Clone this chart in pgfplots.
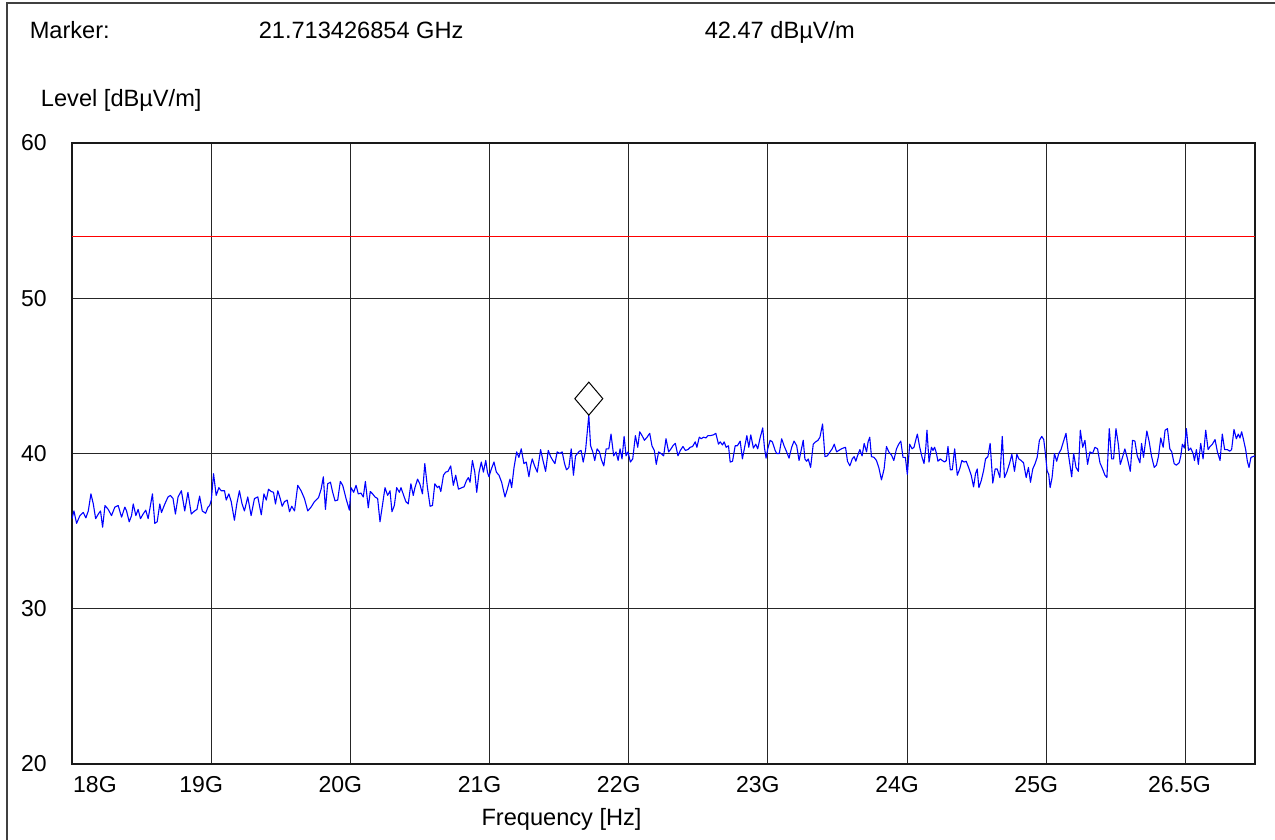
\documentclass[border=0pt]{standalone}
\usepackage{pgfplots}
\pgfplotsset{compat=1.18}
\usepackage{fontspec}
\setmainfont{Liberation Sans}
\newcommand{\lbl}{\fontsize{11.8}{14}\selectfont}
\newcommand{\tkl}{\fontsize{11.5}{14}\selectfont}

\begin{document}
\begin{tikzpicture}
\useasboundingbox (0,0) rectangle (637.5pt,420pt);
% frame of the report page
\draw[black!75, line width=0.6pt] (3.5pt,0) -- (3.5pt,418.5pt) -- (637.5pt,418.5pt);

% header line
\node[anchor=base west, inner sep=0pt, font=\lbl] at (14.7pt,400.6pt) {Marker:};
\node[anchor=base west, inner sep=0pt, font=\lbl] at (129.2pt,400.6pt) {21.713426854 GHz};
\node[anchor=base west, inner sep=0pt, font=\lbl] at (352.2pt,400.6pt) {42.47 dBµV/m};

\begin{axis}[
  at={(36pt,38pt)}, anchor=south west,
  scale only axis, width=591.5pt, height=310.5pt,
  xmin=18, xmax=26.5, ymin=20, ymax=60,
  xtick={18,19,20,21,22,23,24,25,26},
  xticklabels={\makebox[0pt][l]{\hspace{5.6pt}18G},19G,20G,21G,22G,23G,24G,25G,\makebox[0pt][c]{\hspace{4pt}26.5G}},
  ytick={20,30,40,50,60},
  major tick length=0pt,
  grid=major,
  major grid style={black!85, line width=0.5pt},
  axis line style={black!90, line width=0.6pt},
  tick label style={font=\tkl},
  /pgf/number format/assume math mode=true,
  xticklabel style={anchor=north, inner sep=0pt, yshift=-5.8pt, xshift=-5pt},
  yticklabel style={anchor=east, inner sep=0pt, xshift=-12.5pt},
  xlabel={Frequency [Hz]},
  ylabel={Level [dBµV/m]},
  every axis x label/.style={at={(axis description cs:0.4138,0)}, anchor=center, yshift=-27.5pt, font=\lbl},
  every axis y label/.style={at={(axis description cs:0,1)}, anchor=base west, inner sep=0pt, xshift=-15.7pt, yshift=18.2pt, font=\lbl},
  clip=true,
]
% limit line
\addplot[red, line width=0.5pt] coordinates {(18,54) (26.5,54)};

% measured level
\addplot[blue, line width=0.55pt, line join=round] coordinates {
(18.000,35.8)(18.014,36.3)(18.033,35.5)(18.057,36.0)(18.081,36.2)(18.100,35.85)(18.117,36.3)(18.136,37.4)(18.153,36.75)(18.170,35.8)(18.189,36.1)(18.205,36.3)(18.220,35.25)(18.237,36.65)(18.260,36.4)(18.284,36.0)(18.308,36.55)(18.332,36.65)(18.356,35.9)(18.380,36.55)(18.392,36.3)(18.411,35.6)(18.428,36.0)(18.440,36.75)(18.459,36.0)(18.475,36.4)(18.492,35.8)(18.511,36.1)(18.530,36.35)(18.547,35.8)(18.578,37.4)(18.595,35.5)(18.612,35.6)(18.631,36.75)(18.643,36.2)(18.667,36.75)(18.690,37.2)(18.707,37.3)(18.726,37.1)(18.743,36.1)(18.762,37.2)(18.786,37.6)(18.810,36.3)(18.833,37.5)(18.857,36.1)(18.881,36.3)(18.898,36.4)(18.917,37.25)(18.936,36.3)(18.960,36.15)(18.977,36.55)(18.989,36.65)(19.001,37.0)(19.017,38.7)(19.036,37.3)(19.055,37.8)(19.072,37.6)(19.096,37.6)(19.108,37.0)(19.127,37.4)(19.144,36.9)(19.167,35.7)(19.184,36.75)(19.203,37.6)(19.222,36.75)(19.239,36.3)(19.263,37.2)(19.287,36.0)(19.311,37.1)(19.335,37.2)
(19.360,36.05)(19.379,37.4)(19.396,37.0)(19.412,37.7)(19.431,37.55)(19.448,37.5)(19.462,36.75)(19.479,37.6)(19.496,37.1)(19.510,36.6)(19.527,36.9)(19.546,37.0)(19.563,36.25)(19.579,36.6)(19.599,36.3)(19.622,37.95)(19.646,37.6)(19.670,37.1)(19.694,36.3)(19.718,36.55)(19.742,36.9)(19.771,37.15)(19.790,37.7)(19.806,38.5)(19.821,36.4)(19.837,38.05)(19.857,38.15)(19.873,37.5)(19.890,36.95)(19.909,37.0)(19.928,38.2)(19.945,37.95)(19.969,37.1)(19.993,36.35)(20.005,37.8)(20.024,37.5)(20.041,37.95)(20.057,37.4)(20.076,37.45)(20.093,37.2)(20.108,38.2)(20.129,36.5)(20.143,37.55)(20.160,37.4)(20.177,37.2)(20.196,37.1)(20.213,35.6)(20.232,36.75)(20.249,37.8)(20.268,37.3)(20.285,37.6)(20.299,36.25)(20.316,36.65)(20.333,37.8)(20.352,37.5)(20.364,37.8)(20.383,37.3)(20.399,36.9)(20.416,36.75)(20.435,38.05)(20.452,37.3)(20.464,37.8)(20.483,38.35)(20.499,38.05)(20.518,37.4)(20.535,39.35)(20.554,37.8)(20.573,36.6)(20.590,36.65)(20.607,38.05)(20.626,37.8)(20.638,37.9)(20.650,37.55)(20.669,38.6)(20.685,38.8)(20.702,38.85)(20.721,39.2)(20.740,37.95)
(20.757,38.6)(20.777,37.7)(20.801,37.8)(20.817,37.85)(20.834,38.25)(20.848,38.45)(20.860,38.15)(20.877,39.55)(20.894,38.8)(20.908,37.5)(20.925,38.8)(20.941,39.45)(20.956,38.8)(20.973,39.55)(20.985,38.8)(20.996,38.5)(21.013,39.0)(21.032,39.45)(21.049,38.8)(21.068,38.6)(21.087,38.15)(21.111,37.2)(21.128,37.7)(21.147,38.35)(21.159,37.8)(21.176,39.1)(21.195,40.1)(21.211,39.75)(21.228,40.3)(21.247,39.35)(21.264,39.45)(21.283,38.5)(21.295,39.2)(21.307,39.65)(21.324,39.2)(21.343,38.8)(21.367,40.25)(21.384,39.55)(21.403,38.85)(21.422,40.2)(21.439,39.8)(21.455,39.55)(21.470,39.35)(21.486,40.1)(21.505,40.0)(21.522,40.1)(21.539,39.35)(21.553,38.95)(21.570,39.1)(21.587,40.3)(21.603,38.6)(21.618,39.85)(21.632,40.0)(21.646,40.15)(21.658,40.2)(21.673,39.45)(21.690,40.2)(21.7134,42.47)(21.726,40.5)(21.742,40.1)(21.756,39.55)(21.773,40.3)(21.790,40.1)(21.804,39.6)(21.821,39.2)(21.838,40.3)(21.857,40.3)(21.873,41.25)(21.892,39.85)(21.909,40.1)(21.924,39.55)(21.938,40.3)(21.952,39.65)(21.967,41.1)(21.981,39.85)(21.995,40.1)(22.012,39.45)(22.029,39.65)(22.048,41.15)(22.065,40.4)(22.079,41.4)(22.096,41.15)(22.113,40.85)(22.132,41.05)
(22.151,41.3)(22.167,40.5)(22.184,40.2)(22.198,39.3)(22.215,40.1)(22.232,40.0)(22.251,39.85)(22.268,40.95)(22.287,40.1)(22.304,40.3)(22.318,40.5)(22.335,40.65)(22.354,39.85)(22.371,40.2)(22.390,40.45)(22.407,40.2)(22.425,40.25)(22.442,40.4)(22.459,40.45)(22.478,40.75)(22.490,40.4)(22.507,41.05)(22.521,40.95)(22.538,41.05)(22.555,41.0)(22.569,41.15)(22.586,41.15)(22.609,41.2)(22.626,41.3)(22.645,40.6)(22.657,40.75)(22.674,40.55)(22.686,40.75)(22.700,40.4)(22.717,40.5)(22.729,39.45)(22.746,39.5)(22.765,40.5)(22.781,40.5)(22.801,40.8)(22.817,39.65)(22.837,40.6)(22.849,41.15)(22.863,40.4)(22.877,41.2)(22.896,40.35)(22.913,40.6)(22.927,40.3)(22.944,41.0)(22.963,41.65)(22.975,40.4)(22.987,39.7)(22.999,40.3)(23.016,40.85)(23.032,40.75)(23.052,40.2)(23.063,40.0)(23.082,40.0)(23.099,40.95)(23.116,40.5)(23.135,40.1)(23.152,39.7)(23.171,40.4)(23.188,40.8)(23.207,40.5)(23.224,39.55)(23.238,40.15)(23.254,40.85)(23.266,39.65)(23.278,39.5)(23.290,39.65)(23.307,39.1)(23.326,40.6)(23.343,40.75)(23.360,40.85)(23.374,41.05)(23.393,41.9)(23.410,39.8)(23.427,39.85)(23.446,40.1)(23.462,40.3)(23.477,40.6)(23.494,40.1)(23.510,40.2)(23.529,40.3)
(23.541,40.35)(23.558,40.4)(23.572,39.5)(23.589,39.2)(23.606,39.65)(23.620,39.8)(23.632,39.5)(23.644,39.85)(23.661,40.25)(23.677,39.85)(23.692,40.65)(23.709,40.1)(23.720,40.75)(23.732,41.05)(23.744,39.8)(23.763,39.75)(23.780,39.55)(23.797,39.1)(23.816,38.3)(23.835,39.0)(23.852,40.45)(23.869,40.1)(23.888,39.9)(23.905,39.55)(23.924,40.3)(23.940,40.6)(23.955,40.8)(23.971,39.75)(23.988,39.75)(24.002,38.65)(24.019,40.6)(24.036,40.3)(24.050,40.4)(24.062,40.85)(24.074,41.25)(24.091,40.4)(24.108,39.75)(24.122,39.35)(24.134,40.3)(24.143,41.5)(24.158,39.45)(24.175,40.4)(24.186,40.2)(24.198,40.4)(24.210,40.05)(24.222,39.5)(24.239,39.65)(24.253,39.55)(24.270,39.45)(24.282,39.55)(24.294,40.45)(24.311,38.95)(24.325,38.95)(24.342,40.3)(24.361,38.6)(24.378,39.0)(24.394,39.55)(24.409,39.45)(24.425,39.5)(24.442,39.1)(24.461,38.6)(24.478,37.85)(24.492,38.7)(24.504,39.0)(24.516,37.8)(24.533,38.25)(24.550,38.9)(24.564,39.65)(24.581,39.8)(24.597,40.65)(24.616,38.1)(24.633,39.0)(24.648,39.0)(24.667,38.45)(24.684,41.1)(24.700,38.45)(24.717,38.8)(24.736,39.35)(24.753,39.95)(24.772,38.85)(24.789,39.95)(24.803,39.65)(24.820,39.55)(24.837,39.4)(24.856,38.45)(24.872,39.1)(24.887,38.15)(24.903,39.0)(24.920,39.35)(24.935,39.75)(24.951,40.85)(24.968,41.1)(24.982,40.9)(24.994,40.0)(25.006,38.9)
(25.018,38.65)(25.028,37.8)(25.042,38.45)(25.059,40.0)(25.075,39.5)(25.090,40.0)(25.106,40.25)(25.123,40.75)(25.142,41.3)(25.161,39.85)(25.183,38.5)(25.197,40.0)(25.214,39.1)(25.231,38.85)(25.245,41.5)(25.262,40.4)(25.278,40.85)(25.297,39.3)(25.314,40.1)(25.333,40.0)(25.350,40.4)(25.369,40.3)(25.386,39.4)(25.405,39.0)(25.422,38.6)(25.436,38.45)(25.453,41.6)(25.470,39.65)(25.484,39.65)(25.501,41.6)(25.518,40.6)(25.532,39.3)(25.548,39.75)(25.565,40.3)(25.584,39.65)(25.604,38.85)(25.620,40.85)(25.637,40.8)(25.654,39.85)(25.673,39.4)(25.685,40.65)(25.699,39.75)(25.723,41.45)(25.740,40.75)(25.756,39.85)(25.776,39.1)(25.792,39.25)(25.806,39.8)(25.823,41.0)(25.840,40.4)(25.854,41.5)(25.871,41.6)(25.888,40.3)(25.902,40.1)(25.919,39.35)(25.935,39.25)(25.955,39.4)(25.967,39.85)(25.978,40.6)(25.993,40.35)(26.007,41.6)(26.022,40.2)(26.038,40.35)(26.055,40.0)(26.065,39.55)(26.079,40.25)(26.093,39.3)(26.110,40.65)(26.127,39.65)(26.146,41.5)(26.163,40.25)(26.177,40.45)(26.194,40.6)(26.213,40.9)(26.230,40.1)(26.249,39.55)(26.265,41.25)(26.282,40.25)(26.301,40.25)(26.318,40.15)(26.332,40.25)(26.349,41.55)(26.366,40.95)(26.380,41.25)(26.392,41.0)(26.404,41.4)(26.416,40.95)(26.433,40.25)(26.445,39.5)(26.457,39.1)(26.471,39.75)(26.500,39.85)
};

% marker symbol sitting on top of the marked peak
\addplot[only marks, mark=diamond, mark size=8.25pt,
  mark options={draw=black, fill=white, line width=0.5pt, xscale=1.13, yshift=8.25pt}]
  coordinates {(21.7134,42.47)};
\end{axis}
\end{tikzpicture}
\end{document}
